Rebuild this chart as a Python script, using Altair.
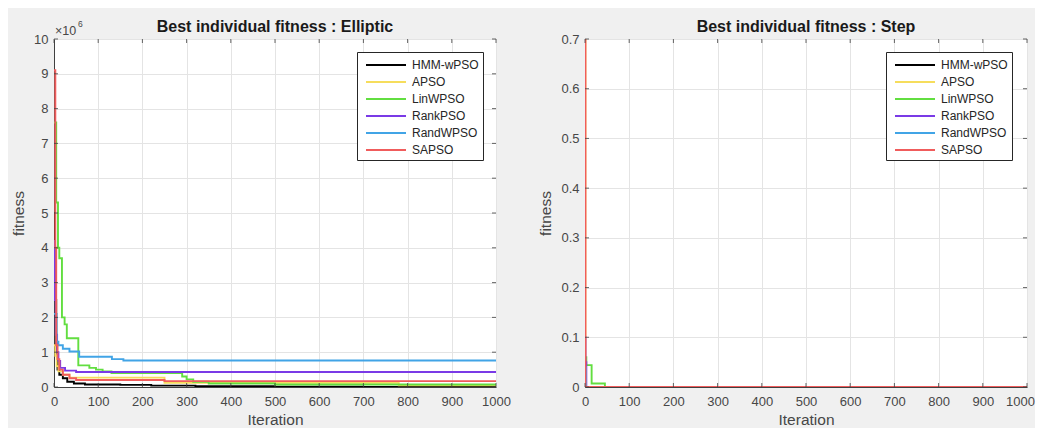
import altair as alt
import pandas as pd

series = ["HMM-wPSO", "APSO", "LinWPSO", "RankPSO", "RandWPSO", "SAPSO"]
colors = ["#000000", "#f6dd5c", "#62de40", "#7a3ae6", "#41a4e6", "#f05c5c"]

x_ticks = [0, 100, 200, 300, 400, 500, 600, 700, 800, 900, 1000]
ell_ticks = [0, 1e6, 2e6, 3e6, 4e6, 5e6, 6e6, 7e6, 8e6, 9e6, 10e6]
step_ticks = [0, 0.1, 0.2, 0.3, 0.4, 0.5, 0.6, 0.7]

titles = ["Best individual fitness : Elliptic", "Best individual fitness : Step"]

# ---- Elliptic (best fitness per iteration, step changes) ----
ell_hmm_it = [0, 2, 5, 8, 12, 20, 30, 45, 70, 150, 220, 320, 500, 700, 1000]
ell_hmm_v = [5.0e6, 2.5e6, 1.0e6, 0.5e6, 0.35e6, 0.25e6, 0.15e6, 0.1e6, 0.07e6, 0.06e6, 0.04e6, 0.02e6, 0.01e6, 0.005e6, 0.005e6]
ell_apso_it = [0, 3, 6, 10, 20, 35, 250, 780, 1000]
ell_apso_v = [1.2e6, 0.9e6, 0.6e6, 0.45e6, 0.35e6, 0.27e6, 0.12e6, 0.05e6, 0.05e6]
ell_lin_it = [0, 5, 9, 12, 18, 24, 29, 55, 80, 95, 110, 130, 290, 300, 315, 350, 500, 1000]
ell_lin_v = [7.6e6, 5.3e6, 4.0e6, 3.7e6, 2.0e6, 1.8e6, 1.4e6, 0.62e6, 0.55e6, 0.5e6, 0.45e6, 0.4e6, 0.3e6, 0.22e6, 0.15e6, 0.1e6, 0.07e6, 0.05e6]
ell_rank_it = [0, 2, 4, 7, 10, 14, 25, 50, 1000]
ell_rank_v = [4.2e6, 2.5e6, 1.5e6, 1.0e6, 0.75e6, 0.55e6, 0.47e6, 0.43e6, 0.43e6]
ell_rand_it = [0, 6, 10, 20, 35, 57, 131, 157, 1000]
ell_rand_v = [2.1e6, 1.3e6, 1.2e6, 1.1e6, 1.02e6, 0.87e6, 0.8e6, 0.76e6, 0.76e6]
ell_sa_it = [0, 3, 5, 8, 12, 20, 35, 50, 250, 1000]
ell_sa_v = [9.1e6, 4.0e6, 1.2e6, 0.8e6, 0.5e6, 0.35e6, 0.25e6, 0.2e6, 0.17e6, 0.17e6]

# ---- Step ----
stp_hmm_it = [0, 1, 1000]
stp_hmm_v = [0.02, 0.0, 0.0]
stp_apso_it = [0, 1, 1000]
stp_apso_v = [0.7, 0.0, 0.0]
stp_lin_it = [0, 3, 15, 45, 1000]
stp_lin_v = [0.06, 0.044, 0.007, 0.0, 0.0]
stp_rank_it = [0, 1, 3, 1000]
stp_rank_v = [0.1, 0.05, 0.0, 0.0]
stp_rand_it = [0, 2, 1000]
stp_rand_v = [0.04, 0.0, 0.0]
stp_sa_it = [0, 1, 1000]
stp_sa_v = [0.7, 0.0, 0.0]


def build(pairs):
    rows = []
    for name, (its, vals) in zip(series, pairs):
        for i, v in zip(its, vals):
            rows.append({"series": name, "iteration": i, "fitness": v})
    return pd.DataFrame(rows)


ell_df = build([(ell_hmm_it, ell_hmm_v), (ell_apso_it, ell_apso_v), (ell_lin_it, ell_lin_v),
                (ell_rank_it, ell_rank_v), (ell_rand_it, ell_rand_v), (ell_sa_it, ell_sa_v)])
stp_df = build([(stp_hmm_it, stp_hmm_v), (stp_apso_it, stp_apso_v), (stp_lin_it, stp_lin_v),
                (stp_rank_it, stp_rank_v), (stp_rand_it, stp_rand_v), (stp_sa_it, stp_sa_v)])

W, H = 442, 348
FONT = "Liberation Sans"
TXT = "#474747"
one = alt.Data(values=[{"a": 1}])


def panel(df, title, ymax, yticks, label_expr, lx, ly, last_shift=0, extra=None):
    xs = alt.Scale(domain=[0, 1000], nice=False, zero=False)
    ys = alt.Scale(domain=[0, ymax], nice=False, zero=False)
    xax = alt.Axis(values=x_ticks, title="Iteration", format="d",
                   labelOffset={"condition": {"test": "datum.value == 1000", "value": last_shift},
                                "value": 0})
    yax = alt.Axis(values=yticks, title="fitness", labelExpr=label_expr)
    X = alt.X("iteration:Q", scale=xs, axis=xax)
    Y = alt.Y("fitness:Q", scale=ys, axis=yax)
    lines = alt.Chart(df).mark_line(interpolate="step-after", strokeWidth=1.9, clip=True).encode(
        x=X, y=Y,
        color=alt.Color("series:N", scale=alt.Scale(domain=series, range=colors), sort=series,
                        legend=alt.Legend(title=None, orient="none", legendX=lx, legendY=ly,
                                          symbolType="M-0.5,0L4.5,0", symbolSize=256,
                                          symbolStrokeWidth=2, labelOffset=33,
                                          labelExpr="datum.label + '\u00a0\u00a0\u00a0'",
                                          labelFontSize=12, labelFont=FONT, labelColor="#262626",
                                          strokeColor="#262626", fillColor="white", padding=4,
                                          rowPadding=2)),
    )
    xt = pd.DataFrame({"iteration": x_ticks})
    yt = pd.DataFrame({"fitness": yticks})
    tb = alt.Chart(xt).mark_rule(color="#404040", strokeWidth=0.8).encode(
        x=X, y=alt.value(H), y2=alt.value(H - 4))
    tt = alt.Chart(xt).mark_rule(color="#404040", strokeWidth=0.8).encode(
        x=X, y=alt.value(0), y2=alt.value(4))
    tl = alt.Chart(yt).mark_rule(color="#404040", strokeWidth=0.8).encode(
        y=Y, x=alt.value(0), x2=alt.value(4))
    tr = alt.Chart(yt).mark_rule(color="#404040", strokeWidth=0.8).encode(
        y=Y, x=alt.value(W), x2=alt.value(W - 4))
    ttl = alt.Chart(one).mark_text(text=title, align="center", baseline="alphabetic", fontSize=16,
                                   font=FONT, fontWeight="bold", color="#1a1a1a").encode(
        x=alt.value(W / 2), y=alt.value(-7))
    layers = [lines, tb, tt, tl, tr, ttl]
    if extra:
        layers += extra
    return alt.layer(*layers).properties(width=W, height=H)


mult = alt.Chart(one).mark_text(text="×10", align="left", baseline="alphabetic", fontSize=12.5,
                                font=FONT, color=TXT).encode(x=alt.value(1), y=alt.value(-4))
sup = alt.Chart(one).mark_text(text="6", align="left", baseline="alphabetic", fontSize=8.5,
                               font=FONT, color=TXT).encode(x=alt.value(24), y=alt.value(-12))

left = panel(ell_df, titles[0], 10e6, ell_ticks,
             "format(datum.value / 1000000, 'd')", 303, 13, 0, [mult, sup])
right = panel(stp_df, titles[1], 0.7, step_ticks,
              "datum.value == 0 ? '0' : format(datum.value, '.1f')", 301, 13, -7)

chart = alt.hconcat(left, right, spacing=27).resolve_scale(
    color="independent", x="independent", y="independent"
).resolve_legend(color="independent").properties(
    background="#f0f0f0",
    padding={"left": 3, "top": 10, "right": 0, "bottom": 0},
).configure_view(fill="white", stroke="#b5b5b5", strokeWidth=1).configure_axis(
    labelFont=FONT, labelFontSize=13, labelColor=TXT, labelFlush=False,
    titleFont=FONT, titleFontSize=15.5, titleFontWeight="normal", titleColor=TXT,
    grid=True, gridColor="#e4e4e4", gridWidth=1, ticks=False,
    domain=True, domainColor="#404040", domainWidth=1,
).configure_axisY(titlePadding=7, labelPadding=6).configure_axisX(titlePadding=4, labelPadding=8)

chart.save("out.html", embed_options={"renderer": "svg", "actions": False})
